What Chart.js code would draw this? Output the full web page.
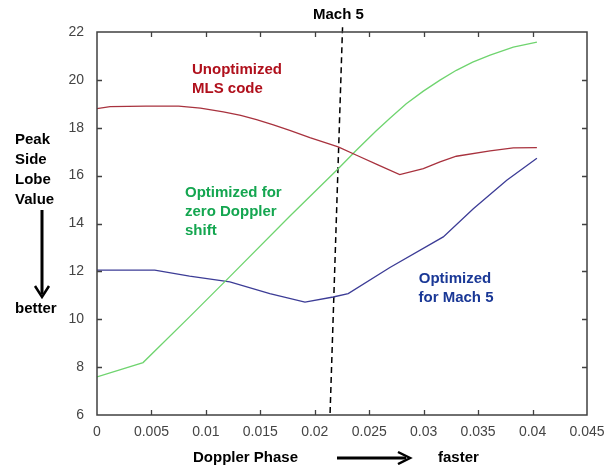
<!DOCTYPE html>
<html>
<head>
<meta charset="utf-8">
<script src="https://cdn.jsdelivr.net/npm/chart.js@4/dist/chart.umd.min.js"></script>
<style>
  body { margin: 0; background: #fff; }
  #wrap { width: 613px; height: 465px; position: relative; }
</style>
</head>
<body>
<div id="wrap"><canvas id="chart"></canvas></div>
<script>
// Unoptimized MLS code (red)
const redX = [0, 0.0012, 0.0045, 0.0075, 0.0095, 0.0116, 0.0132, 0.01465, 0.0162, 0.0177, 0.01955, 0.02215, 0.02384, 0.0258, 0.0278, 0.02997, 0.0315, 0.033, 0.0361, 0.03823, 0.0404];
const redY = [18.8, 18.88, 18.9, 18.9, 18.82, 18.66, 18.52, 18.34, 18.12, 17.89, 17.59, 17.2, 16.85, 16.45, 16.04, 16.29, 16.57, 16.81, 17.03, 17.16, 17.17];

// Optimized for zero Doppler shift (green)
const greenX = [0, 0.00423, 0.00852, 0.0122, 0.0177, 0.02215, 0.02384, 0.0256, 0.0269, 0.0284, 0.02997, 0.0315, 0.033, 0.0345, 0.0361, 0.03823, 0.0404];
const greenY = [7.59, 8.19, 10.11, 11.78, 14.3, 16.29, 17.07, 17.85, 18.4, 19.0, 19.53, 19.99, 20.4, 20.74, 21.03, 21.37, 21.58];

// Optimized for Mach 5 (blue)
const blueX = [0, 0.0053, 0.0085, 0.0122, 0.01587, 0.0191, 0.02169, 0.02307, 0.0269, 0.0318, 0.03456, 0.03763, 0.0404];
const blueY = [12.05, 12.05, 11.8, 11.56, 11.07, 10.72, 10.93, 11.07, 12.16, 13.44, 14.62, 15.81, 16.73];

// Mach 5 marker (dashed)
const machX = [0.02255, 0.0214];
const machY = [22.2, 6];

const xMin = 0, xMax = 0.045, xStep = 0.005;
const yMin = 6, yMax = 22, yStep = 2;

const pts = (xs, ys) => xs.map((x, i) => ({ x, y: ys[i] }));

const FONT = 'Arial, "Liberation Sans", sans-serif';

function line(label, color, xs, ys) {
  return {
    label,
    data: pts(xs, ys),
    borderColor: color,
    backgroundColor: color,
    borderWidth: 1.3,
    pointRadius: 0,
    tension: 0,
  };
}

const frame = {
  id: 'frame',
  afterDraw(chart) {
    const { ctx, chartArea: a, scales: { x, y } } = chart;
    ctx.save();
    ctx.strokeStyle = '#404040';
    ctx.lineWidth = 1.5;
    ctx.strokeRect(a.left, a.top, a.right - a.left, a.bottom - a.top);
    ctx.lineWidth = 1.3;
    ctx.beginPath();
    for (let v = xMin + xStep; v < xMax - 1e-9; v += xStep) {
      const px = Math.round(x.getPixelForValue(v)) + 0.5;
      ctx.moveTo(px, a.bottom); ctx.lineTo(px, a.bottom - 5);
      ctx.moveTo(px, a.top); ctx.lineTo(px, a.top + 5);
    }
    for (let v = yMin + yStep; v < yMax - 1e-9; v += yStep) {
      const py = Math.round(y.getPixelForValue(v)) + 0.5;
      ctx.moveTo(a.left, py); ctx.lineTo(a.left + 5, py);
      ctx.moveTo(a.right, py); ctx.lineTo(a.right - 5, py);
    }
    ctx.stroke();

    // labels
    ctx.font = 'bold 15px ' + FONT;
    ctx.textBaseline = 'alphabetic';
    ctx.textAlign = 'left';
    ctx.fillStyle = '#000';
    ctx.fillText('Mach 5', 313, 19);
    ['Peak', 'Side', 'Lobe', 'Value'].forEach((t, i) => ctx.fillText(t, 15, 144 + i * 20));
    ctx.fillText('better', 15, 313);
    ctx.fillText('Doppler Phase', 193, 462);
    ctx.fillText('faster', 438, 462);

    ctx.fillStyle = '#b0101c';
    ctx.fillText('Unoptimized', 192, 74);
    ctx.fillText('MLS code', 192, 93);

    ctx.fillStyle = '#14a650';
    ctx.fillText('Optimized for', 185, 197);
    ctx.fillText('zero Doppler', 185, 216);
    ctx.fillText('shift', 185, 235);

    ctx.fillStyle = '#1a3896';
    ctx.textAlign = 'center';
    ctx.fillText('Optimized', 455, 283);
    ctx.fillText('for Mach 5', 456, 302);

    // arrows
    ctx.strokeStyle = '#000';
    ctx.fillStyle = '#000';
    ctx.lineWidth = 3;
    ctx.beginPath();
    ctx.moveTo(42, 210); ctx.lineTo(42, 294);
    ctx.moveTo(337, 458); ctx.lineTo(406, 458);
    ctx.stroke();
    ctx.lineWidth = 2.5;
    ctx.beginPath();
    ctx.moveTo(35, 286); ctx.lineTo(42, 297); ctx.lineTo(49, 286);
    ctx.moveTo(398, 452); ctx.lineTo(410, 458); ctx.lineTo(398, 464);
    ctx.stroke();
    ctx.restore();
  }
};

new Chart(document.getElementById('chart'), {
  type: 'line',
  data: {
    datasets: [
      line('Unoptimized MLS code', '#a8323e', redX, redY),
      line('Optimized for zero Doppler shift', '#6fd46f', greenX, greenY),
      line('Optimized for Mach 5', '#3c3c96', blueX, blueY),
      {
        label: 'Mach 5',
        data: pts(machX, machY),
        borderColor: '#000',
        borderWidth: 1.5,
        borderDash: [6, 4],
        pointRadius: 0,
        clip: false,
      },
    ],
  },
  options: {
    responsive: true,
    maintainAspectRatio: false,
    animation: false,
    layout: { padding: { left: 0, top: 32, right: 26, bottom: 0 } },
    plugins: { legend: { display: false }, tooltip: { enabled: false } },
    scales: {
      x: {
        type: 'linear',
        min: xMin,
        max: xMax,
        grid: { display: false },
        border: { display: false },
        ticks: {
          stepSize: xStep,
          padding: 1,
          color: '#444',
          font: { family: FONT, size: 14 },
          maxRotation: 0,
          callback: (v) => String(Number(v.toFixed(3))),
        },
        afterFit: (s) => { s.height = 50; },
      },
      y: {
        min: yMin,
        max: yMax,
        grid: { display: false },
        border: { display: false },
        ticks: {
          stepSize: yStep,
          padding: 5,
          color: '#444',
          font: { family: FONT, size: 14 },
        },
        afterFit: (s) => { s.width = 97; },
      },
    },
  },
  plugins: [frame],
});
</script>
</body>
</html>
